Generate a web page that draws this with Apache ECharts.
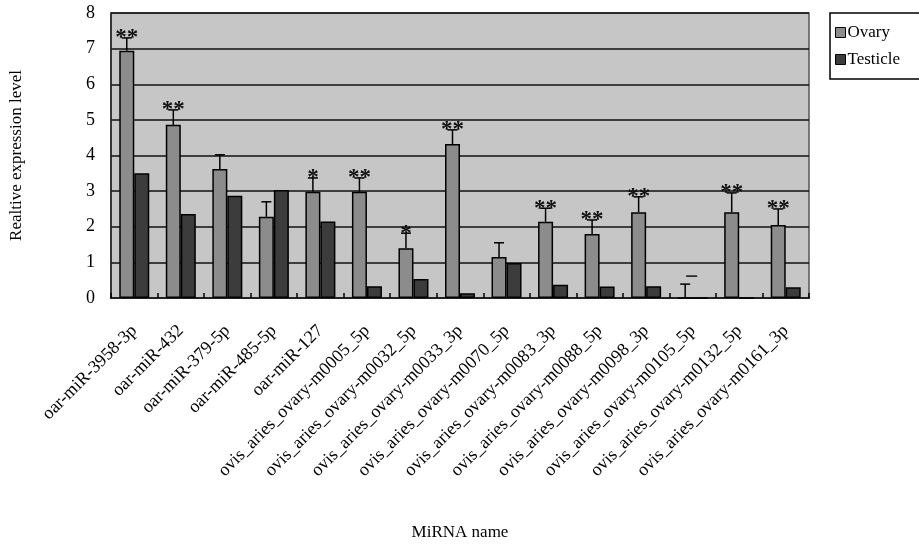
<!DOCTYPE html>
<html><head><meta charset="utf-8">
<script src="https://cdn.jsdelivr.net/npm/echarts@6/dist/echarts.min.js"></script>
<style>html,body{margin:0;padding:0;background:#fff}#c{width:919px;height:545px}</style>
</head><body><div id="c"></div>
<script>
var categories = ['oar-miR-3958-3p','oar-miR-432','oar-miR-379-5p','oar-miR-485-5p','oar-miR-127',
  'ovis_aries_ovary-m0005_5p','ovis_aries_ovary-m0032_5p','ovis_aries_ovary-m0033_3p','ovis_aries_ovary-m0070_5p',
  'ovis_aries_ovary-m0083_3p','ovis_aries_ovary-m0088_5p','ovis_aries_ovary-m0098_3p','ovis_aries_ovary-m0105_5p',
  'ovis_aries_ovary-m0132_5p','ovis_aries_ovary-m0161_3p'];
var ovary    = [6.94, 4.86, 3.62, 2.28, 2.98, 2.98, 1.40, 4.32, 1.15, 2.14, 1.80, 2.41, 0.00, 2.41, 2.05];
var ovaryErr = [7.30, 5.28, 4.02, 2.70, 3.37, 3.37, 1.82, 4.72, 1.55, 2.52, 2.19, 2.84, 0.39, 2.95, 2.50];
var testicle = [3.50, 2.36, 2.87, 3.03, 2.15, 0.33, 0.53, 0.13, 0.98, 0.37, 0.32, 0.33, 0.00, 0.00, 0.30];
var signif   = ['**','**','','','*','**','*','**','','**','**','**','\u2014','**','**'];
var yTicks = [0,1,2,3,4,5,6,7,8];

var FONT = 'Liberation Serif';
var chart = echarts.init(document.getElementById('c'));
var BW = 15;
chart.setOption({
  animation: false,
  grid: {left: 111, top: 13, right: 110, bottom: 247, containLabel: false, outerBoundsMode: 'none',
         show: true, backgroundColor: '#c6c6c6', borderColor: '#555', borderWidth: 1.5},
  legend: {
    orient: 'vertical', left: 830, top: 13, data: ['Ovary','Testicle'],
    icon: 'rect', itemWidth: 10, itemHeight: 10, itemGap: 10, padding: [11, 20, 11, 5],
    borderColor: '#000', borderWidth: 1.5, backgroundColor: '#fff',
    itemStyle: {borderColor: '#000', borderWidth: 1},
    textStyle: {fontFamily: FONT, fontSize: 17, color: '#000', padding: [0,0,0,-3]}
  },
  xAxis: {
    type: 'category', data: categories,
    name: 'MiRNA name', nameLocation: 'middle', nameGap: 226,
    nameTextStyle: {fontFamily: FONT, fontSize: 17, color: '#000'},
    axisLine: {lineStyle: {color: '#222', width: 2}},
    axisTick: {show: true, inside: true, length: 5, lineStyle: {color: '#000', width: 1.5}},
    axisLabel: {rotate: 45, interval: 0, fontFamily: FONT, fontSize: 18, color: '#000', margin: 30}
  },
  yAxis: {
    type: 'value', min: 0, max: 8, interval: 1,
    name: 'Realtive expression level', nameLocation: 'middle', nameGap: 86,
    nameTextStyle: {fontFamily: FONT, fontSize: 17, color: '#000', lineHeight: 17},
    axisLine: {show: true, lineStyle: {color: '#222', width: 1.5}},
    axisTick: {show: false},
    axisLabel: {fontFamily: FONT, fontSize: 18, color: '#000', margin: 16,
      formatter: function(v){ return yTicks.indexOf(v) >= 0 ? String(v) : ''; }},
    splitLine: {show: true, lineStyle: {color: '#111', width: 1.5}}
  },
  series: [
    {name: 'Ovary', type: 'bar', data: ovary, barWidth: BW, barGap: '0%',
     itemStyle: {color: '#8c8c8c', borderColor: '#000', borderWidth: 1.5}},
    {name: 'Testicle', type: 'bar', data: testicle, barWidth: BW, barGap: '0%',
     itemStyle: {color: '#3c3c3c', borderColor: '#000', borderWidth: 1.5}},
    {type: 'custom', data: categories.map(function(c, i){ return [i, ovary[i], ovaryErr[i]]; }),
     z: 5,
     renderItem: function(params, api){
       var i = api.value(0);
       var lo = api.coord([i, api.value(1)]);
       var hi = api.coord([i, api.value(2)]);
       var x = lo[0] - BW/2;
       var children = [
         {type: 'line', shape: {x1: x, y1: lo[1], x2: x, y2: hi[1]}, style: {stroke: '#000', lineWidth: 1.5}},
         {type: 'line', shape: {x1: x - 5, y1: hi[1], x2: x + 5, y2: hi[1]}, style: {stroke: '#000', lineWidth: 1.5}}
       ];
       var s = signif[i];
       if (s) {
         if (s === '**' || s === '*') {
           children.push({type: 'text', style: {text: s, x: x, y: hi[1] + 12, align: 'center', verticalAlign: 'bottom',
             font: 'bold 23px "' + FONT + '"', fill: '#111'}});
         } else {
           children.push({type: 'line', shape: {x1: x + 1, y1: hi[1] - 8, x2: x + 12, y2: hi[1] - 8}, style: {stroke: '#111', lineWidth: 1.5}});
         }
       }
       return {type: 'group', children: children};
     }}
  ]
});
</script></body></html>
